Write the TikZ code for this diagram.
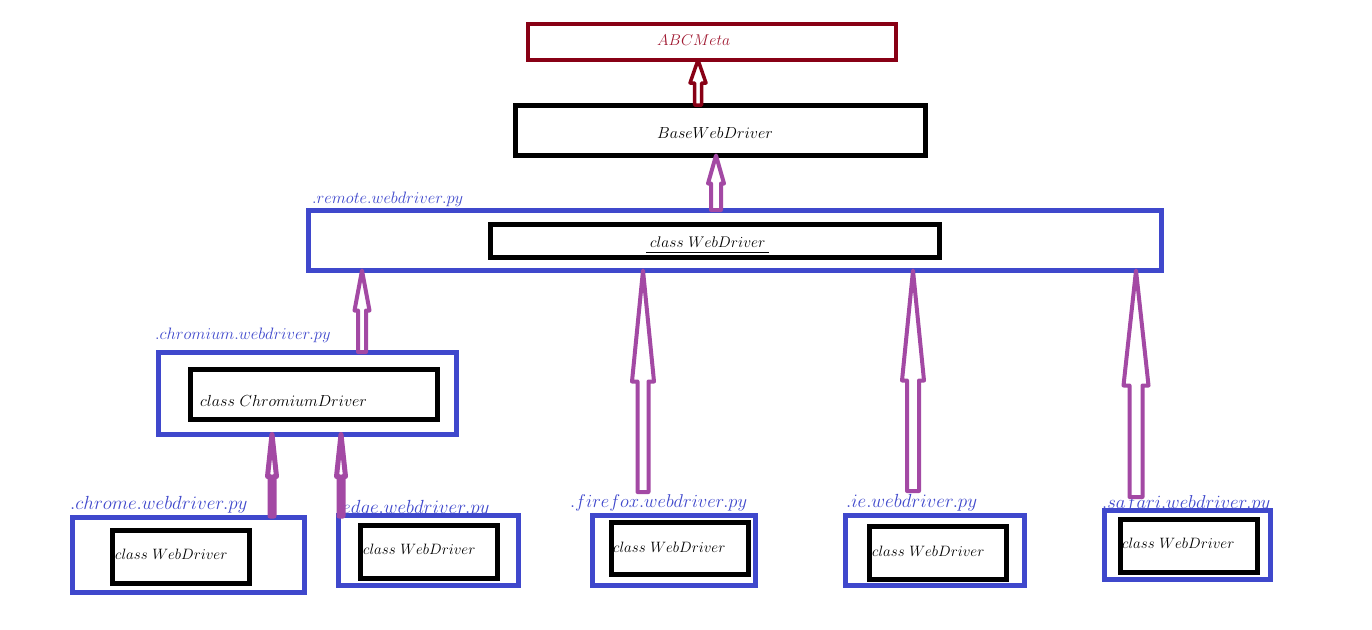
\RequirePackage{fix-cm}
\documentclass[tikz,border=0pt]{standalone}
\usetikzlibrary{calc}
\definecolor{pblue}{HTML}{3F48CC}
\definecolor{ppurple}{HTML}{A349A4}
\definecolor{pred}{HTML}{880015}
\definecolor{tred}{HTML}{A01830}
\tikzset{
  bluebox/.style={draw=pblue, line width=5pt, rectangle, inner sep=0pt, outer sep=0pt},
  blackbox/.style={draw=black, line width=5pt, rectangle, inner sep=0pt, outer sep=0pt},
  redbox/.style={draw=pred, line width=4pt, rectangle, inner sep=0pt, outer sep=0pt},
  lbl/.style={text=pblue, inner sep=0pt, anchor=base west},
  cls/.style={text=black, inner sep=0pt, anchor=base west, font=\fontsize{15}{18}\selectfont},
  harr/.style={draw=ppurple, fill=white, line width=4pt, line join=round},
}
\newcommand\bx[6]{\node[#6, minimum width={#4-#2}, minimum height={#5-#3}] (#1) at ({(#2+#4)/2},{(#3+#5)/2}) {};}
\newcommand\harrow[6]{\path[harr,#6] let \p1=(#1), \p2=(#2) in
  (\x1-#5,\y1) -- (\x1-#5,\y2+#3) -- (\x1-#4,\y2+#3) -- (\x1,\y2) -- (\x1+#4,\y2+#3) -- (\x1+#5,\y2+#3) -- (\x1+#5,\y1) -- cycle;}
\begin{document}
\begin{tikzpicture}[x=1pt,y=-1pt]
\fill[white] (0,0) rectangle (1372,629);
\useasboundingbox (0,0) rectangle (1372,629);
% boxes
\bx{abc}{528}{24}{896}{60}{redbox}
\bx{base}{515.5}{105.5}{925.5}{155.5}{blackbox}
\bx{remote}{308.5}{210.5}{1161.5}{270.5}{bluebox}
\bx{remin}{490.5}{224.5}{939.5}{257.5}{blackbox}
\bx{chromium}{158.5}{352.5}{456.5}{434.5}{bluebox}
\bx{chromin}{190.5}{369.5}{437.5}{419.5}{blackbox}
\bx{chrome}{72.5}{517.5}{304.5}{592.5}{bluebox}
\bx{chromein}{112.5}{530.5}{249.5}{583.5}{blackbox}
\bx{edge}{338.5}{515.5}{518.5}{585.5}{bluebox}
\bx{edgein}{360.5}{525.5}{497.5}{578.5}{blackbox}
\bx{ff}{592.5}{515.5}{755.5}{585.5}{bluebox}
\bx{ffin}{611.5}{522.5}{748.5}{574.5}{blackbox}
\bx{ie}{845.5}{515.5}{1024.5}{585.5}{bluebox}
\bx{iein}{869.5}{526.5}{1006.5}{579.5}{blackbox}
\bx{saf}{1104.5}{510.5}{1270.5}{579.5}{bluebox}
\bx{safin}{1120.5}{519.5}{1257.5}{572.5}{blackbox}
% texts
\node[text=tred, inner sep=0pt, anchor=base west, font=\fontsize{15.6}{18}\selectfont] (abct) at (657,45) {$ABCMeta$};
\node[inner sep=0pt, anchor=base west, font=\fontsize{16}{19}\selectfont] (baset) at (657,138) {$BaseWebDriver$};
\node[lbl, font=\fontsize{16.5}{19}\selectfont] (remotel) at (312,203) {$.remote.webdriver.py$};
\node[cls, font=\fontsize{15.4}{18}\selectfont] (remint) at (650,247) {$class\ WebDriver$};
\draw[line width=1pt] ($(remint.base west)+(-4,5)$) -- ($(remint.base east)+(3,5)$);
\node[lbl, font=\fontsize{16.5}{19}\selectfont] (chromiuml) at (155,339) {$.chromium.webdriver.py$};
\node[cls, font=\fontsize{16}{19}\selectfont] (chromint) at (200,406) {$class\ ChromiumDriver$};
\node[lbl, font=\fontsize{19}{22}\selectfont] (chromel) at (70,509) {$.chrome.webdriver.py$};
\node[cls] (chromet) at (115,559) {$class\ WebDriver$};
\node[lbl, font=\fontsize{19}{22}\selectfont] (edgel) at (342,513) {$edge.webdriver.py$};
\node[cls] (edget) at (363,554) {$class\ WebDriver$};
\node[lbl, font=\fontsize{18.5}{22}\selectfont] (ffl) at (570,507) {$.firefox.webdriver.py$};
\node[cls] (fft) at (613,552) {$class\ WebDriver$};
\node[lbl, font=\fontsize{19}{22}\selectfont] (iel) at (846,507) {$.ie.webdriver.py$};
\node[cls] (iet) at (872,556) {$class\ WebDriver$};
\node[lbl, font=\fontsize{18.7}{22}\selectfont] (safl) at (1102,508) {$.safari.webdriver.py$};
\node[cls] (saft) at (1122,548) {$class\ WebDriver$};
% arrow tails
\coordinate (t1) at (698,105);
\coordinate (t2) at (716,210);
\coordinate (t3) at (362,352);
\coordinate (t4) at (272,516);
\coordinate (t5) at (341,516);
\coordinate (t6) at (643,492);
\coordinate (t7) at (913,491);
\coordinate (t8) at (1136,497);
% arrows
\harrow{t1}{abc.south}{-23pt}{8pt}{3.5pt}{draw=pred, line width=3.5pt}
\harrow{t2}{base.south}{-28pt}{8pt}{5pt}{}
\harrow{t3}{remote.south}{-40pt}{7.5pt}{4pt}{}
\harrow{t4}{chromium.south}{-42pt}{4.5pt}{2pt}{line width=5pt}
\harrow{t5}{chromium.south}{-42pt}{4.5pt}{2pt}{line width=5pt}
\harrow{t6}{remote.south}{-111pt}{11pt}{5.5pt}{}
\harrow{t7}{remote.south}{-110pt}{11pt}{6pt}{}
\harrow{t8}{remote.south}{-115pt}{12.5pt}{6.5pt}{}
\end{tikzpicture}
\end{document}
